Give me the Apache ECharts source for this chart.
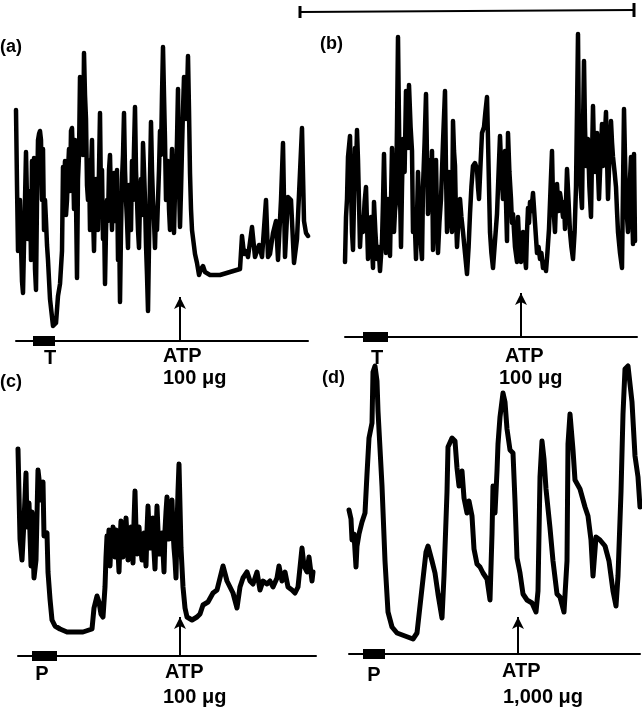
<!DOCTYPE html>
<html>
<head>
<meta charset="utf-8">
<title>ATP traces</title>
<script src="https://cdn.jsdelivr.net/npm/echarts@6/dist/echarts.min.js"></script>
<style>
  html, body { margin: 0; padding: 0; background: #fff; }
  #chart { width: 642px; height: 712px; }
</style>
</head>
<body>
<div id="chart"></div>
<script>
  // recordings, [time, amplitude]
  let traceA = [[0,75],[0.5,50],[1,28],[1.5,40],[2,45],[2.5,30],[3,18],[3.5,14],[4,30],[4.5,45],[5,61],[5.5,45],[6,32],[6.5,40],[7,48],[7.5,25],[8,58],[8.5,50],[9,59],[9.5,22],[10,15],[10.5,45],[11,65],[11.5,67],[12,68],[12.5,65],[13,45],[13.5,62],[14,35],[14.5,45],[15,38],[15.5,30],[16,25],[17,12],[18.5,3],[20,4],[21,13],[22,17],[23,28],[23.5,56],[24,50],[24.5,58],[25,40],[25.5,45],[26,55],[26.5,62],[27,48],[27.5,68],[28,69],[28.5,58],[29,42],[29.5,65],[30,45],[30.5,19],[31,52],[31.5,60],[32,86],[32.5,70],[33,78],[33.5,60],[34,94],[34.5,80],[35,72],[35.5,50],[36,45],[36.5,58],[37,35],[37.5,55],[38,65],[38.5,40],[39,28],[39.5,45],[40,52],[40.5,40],[41,35],[41.5,55],[42,74],[42.5,45],[43,55],[43.5,32],[44,40],[44.5,17],[45,35],[45.5,45],[46,38],[46.5,55],[47,60],[47.5,45],[48,35],[48.5,50],[49,54],[49.5,38],[50,42],[50.5,55],[51,25],[51.5,40],[52,11],[52.5,35],[53,52],[53.5,60],[54,74],[54.5,55],[55,45],[55.5,38],[56,29],[56.5,50],[57,45],[57.5,35],[58,58],[58.5,45],[59,62],[59.5,76],[60,55],[60.5,45],[61,35],[61.5,29],[62,45],[62.5,52],[63,40],[63.5,64],[64,55],[64.5,45],[65,30],[65.5,20],[66,8],[66.5,30],[67,52],[67.5,71],[68,55],[68.5,45],[69,38],[69.5,29],[70,42],[70.5,35],[71,45],[71.5,55],[72,68],[72.5,60],[73,80],[73.5,96],[74,80],[74.5,65],[75,45],[75.5,55],[76,58],[76.5,42],[77,35],[77.5,50],[78,62],[78.5,45],[79,34],[79.5,48],[80,52],[80.5,65],[81,82],[81.5,50],[82,36],[82.5,48],[83,62],[83.5,75],[84,86],[84.5,78],[85,72],[85.5,80],[86,93],[86.5,75],[87,54],[87.5,42],[88,35],[89.5,27],[90.5,24],[91.5,20],[92.5,22],[93.5,23],[94.5,21],[97,20],[102,20],[107,21],[112,22],[113,33],[114,27],[115,28],[116,26],[118,36],[119.5,26],[121.5,30],[123,26],[125,45],[126,26],[127,27],[128.5,34],[130,38],[131,25],[132.5,45],[133.5,64],[134.5,26],[136,46],[137.5,45],[139,24],[140.5,32],[143,69],[144,38],[145,34],[146,33]]
  let traceB = [[0,25],[0.5,40],[1,46],[1.5,60],[2.5,67],[3,50],[3.5,35],[4,29],[4.5,45],[5,63],[5.5,55],[6,69],[6.5,59],[7,45],[7.5,30],[8.2,40],[9,35],[9.8,45],[10.5,50],[11,38],[11.5,26],[12.2,35],[13,40],[13.5,30],[14,23],[14.5,45],[15.2,35],[16,26],[16.8,30],[17.5,22],[18.5,32],[19,45],[19.5,61],[20,45],[20.5,28],[21,40],[21.5,46],[22,35],[22.5,27],[23,45],[23.5,63],[24,50],[24.5,35],[25,42],[25.5,45],[26,70],[26.5,100],[27.2,60],[28,30],[28.5,50],[29,66],[29.8,55],[30.5,82],[31,70],[31.5,63],[32,84],[32.8,70],[33.5,62],[34,35],[34.8,40],[35.5,26],[36,40],[36.5,55],[37,45],[37.5,36],[38,30],[38.5,26],[39,50],[39.8,65],[40.5,81],[41,60],[41.5,41],[42,50],[42.5,59],[43,50],[43.5,62],[44,29],[44.8,45],[45.5,59],[46,40],[46.5,28],[47.2,38],[48,46],[49,65],[50,82],[50.5,55],[51,35],[51.5,45],[52,55],[52.8,42],[53.5,35],[54,72],[54.5,62],[55,57],[55.5,40],[56,30],[56.8,40],[57.5,46],[58.2,40],[59,35],[60,28],[61,21],[61.8,30],[62.5,41],[63.2,50],[64,57],[65,58],[66,56],[66.5,50],[67,46],[67.8,58],[68.5,68],[69.5,70],[70.2,75],[71,80],[71.5,66],[72,50],[72.5,35],[73.2,28],[74,23],[75,32],[76,41],[76.8,55],[77.5,67],[78.2,55],[79,46],[79.5,55],[80,62],[80.5,45],[81,32],[81.5,68],[82.2,55],[83,46],[83.5,38],[84,41],[85,30],[86,25],[86.5,40],[87.2,30],[88,25],[88.5,32],[89,35],[89.8,28],[90.5,23],[91,35],[91.5,43],[92,38],[92.5,45],[93.2,42],[94,48],[95,38],[96,28],[96.8,30],[97.5,26],[98.2,28],[99,23],[99.8,25],[100.5,22],[101.2,28],[102,36],[102.8,50],[103.5,62],[104,46],[104.5,40],[105,35],[105.5,45],[106,51],[106.8,42],[107.5,48],[108.2,45],[109,40],[109.5,45],[110,36],[110.5,45],[111,56],[111.8,45],[112.5,35],[113.2,30],[114,26],[114.8,35],[115.5,50],[116,75],[116.5,101],[117,62],[117.8,50],[118.5,43],[119,70],[119.5,92],[120,70],[120.5,57],[121,62],[121.5,66],[122.2,50],[123,40],[123.5,60],[124,77],[124.5,62],[125,55],[125.5,62],[126,68],[126.5,55],[127,46],[127.8,60],[128.5,71],[129,57],[129.8,65],[130.5,75],[131,60],[131.5,46],[132.2,60],[133,72],[133.5,65],[134,60],[134.8,55],[135.5,50],[136,42],[136.5,35],[137.5,28],[138.5,23],[139,50],[139.5,76],[140,60],[140.5,46],[141,40],[141.5,35],[142.2,48],[143,60],[143.5,45],[144,31],[144.5,61],[145,32]]
  let traceC = [[0,69],[1,39],[2,32],[3,45],[4,61],[4.5,43],[5.5,51],[6.5,30],[7,48],[8,26],[9,32],[10,62],[10.5,59],[11.5,52],[12.5,58],[13,40],[14.5,41],[15,28],[16,19],[17,12],[18.5,10],[21,9],[24.5,8],[27.5,8],[32.5,8],[37,9],[38,16],[39.5,20],[40.5,18],[41.5,14],[42.5,13],[43.5,23],[44,33],[44.5,40],[45,36],[45.5,42],[46,30],[46.5,38],[47,35],[47.5,43],[48,38],[48.5,33],[49,42],[49.5,40],[50,35],[50.5,28],[51,38],[51.5,45],[52,40],[52.5,33],[53,42],[53.5,38],[54,46],[54.5,40],[55,32],[55.5,38],[56,42],[56.5,43],[57,36],[57.5,31],[58,45],[58.5,55],[59,42],[59.5,34],[60,40],[60.5,43],[61,38],[61.5,35],[62,32],[62.5,40],[63,41],[63.5,36],[64,30],[64.5,42],[65,50],[65.5,42],[66,36],[66.5,42],[67,38],[67.5,46],[68,35],[68.5,29],[69,40],[69.5,50],[70,42],[70.5,34],[71,40],[71.5,38],[72,41],[72.5,35],[73,28],[73.5,42],[74,48],[74.5,53],[75,45],[75.5,39],[76,45],[76.5,48],[77,52],[77.5,42],[78,36],[78.5,32],[79,26],[79.5,43],[80,55],[80.5,64],[81,50],[81.5,36],[82.5,23],[83.5,16],[84.5,13],[87,12],[89.5,13],[91,14],[92.5,17],[95,18],[97.5,21],[99.5,22],[101,26],[102.5,30],[104.5,25],[106,23],[107.5,21],[109.5,16],[111,23],[112.5,26],[114.5,28],[116,25],[117.5,24],[119.5,28],[121,22],[122.5,25],[124.5,24],[126,25],[127.5,23],[129.5,26],[130.5,30],[132,25],[133.5,28],[135,23],[137,22],[138.5,21],[140,23],[142,36],[143,30],[144.5,28],[145.5,33],[147,25],[147.5,28]]
  let traceD = [[0,48],[1,45],[1.5,38],[2.5,40],[3.5,29],[4,36],[5,40],[6.5,44],[8,47],[9,60],[10,72],[11.5,77],[12,94],[13,96],[14,91],[14.5,81],[16.5,56],[18,31],[19.5,14],[21.5,9],[24,7],[28,6],[32,5],[34,7],[35.5,16],[37,25],[38.5,34],[39.5,36],[41.5,31],[43,27],[44.5,20],[46.5,12],[47.5,26],[49,54],[49.5,69],[51.5,72],[53,71],[54,62],[55,56],[56.5,61],[57.5,52],[59,47],[60,51],[61.5,46],[62.5,35],[64,30],[65.5,29],[67,27],[69,25],[70.5,18],[71.5,40],[72,56],[73,47],[74,61],[74.5,70],[75.5,79],[77,87],[78,84],[79,75],[80.5,68],[82,67],[83,51],[84,32],[85.5,27],[87,20],[89,18],[91.5,17],[93.5,14],[94.5,21],[95.5,59],[96.5,71],[97.5,65],[98.5,55],[100.5,42],[102,31],[104,20],[105.5,19],[107.5,14],[109,31],[109.5,70],[110.5,80],[112,68],[113,58],[115.5,55],[118,49],[119.5,46],[121,38],[122,26],[123.5,39],[125.5,38],[128,36],[130,31],[132,21],[133.5,16],[134.5,26],[136,54],[137,80],[138,95],[139.5,96],[141.5,84],[143,66],[144.5,59],[145.5,49]]

  let traces = [traceA, traceB, traceC, traceD]
  let panelNames = ['(a)', '(b)', '(c)', '(d)']
  let drugNames = ['T', 'T', 'P', 'P']
  let atpLabels = ['ATP', 'ATP', 'ATP', 'ATP']
  let doseLabels = ['100 \u03bcg', '100 \u03bcg', '100 \u03bcg', '1,000 \u03bcg']
  let drugStart = [8.5, 9, 7, 7]
  let drugEnd = [19.5, 21.5, 19.5, 18]
  let atpTime = [82, 88, 81, 84.5]
  let arrowTop = [12.7, 14.7, 13, 12.3]
  let baseLevel = [-2, 0, 0, 0]
  let topLevel = [97, 102, 70, 100]
  let timeEnd = [146, 146, 149, 145.5]

  // panel boxes in px
  let boxes = [
    { left: 16, top: 44, width: 292, height: 297 },
    { left: 345, top: 31, width: 292, height: 306 },
    { left: 18, top: 446, width: 298, height: 210 },
    { left: 349, top: 354, width: 291, height: 300 }
  ]
  let lineWidths = [4.5, 4.5, 5, 5]
  let panelPos = [[0, 47], [320, 44], [0, 382], [322, 378]]
  let drugPos = [[50, 358], [377, 358], [42, 674], [374, 675]]
  let atpPos = [[163, 356], [505, 356], [165, 672], [502, 671]]
  let dosePos = [[163, 378], [499, 378], [163, 697], [503, 697]]

  let myChart = echarts.init(document.getElementById('chart'))

  let font = '"Liberation Sans", Arial, sans-serif'
  let grid = [], xAxis = [], yAxis = [], series = [], graphic = []

  traces.forEach(function(trace, i) {
    grid.push(boxes[i])
    xAxis.push({
      type: 'value', gridIndex: i, min: 0, max: timeEnd[i],
      axisLine: { show: true, onZero: false, lineStyle: { color: '#000', width: 2 } },
      axisTick: { show: false }, axisLabel: { show: false }, splitLine: { show: false }
    })
    yAxis.push({ type: 'value', gridIndex: i, min: baseLevel[i], max: topLevel[i], show: false })

    series.push({
      type: 'line', xAxisIndex: i, yAxisIndex: i, data: trace,
      showSymbol: false, silent: true,
      lineStyle: { color: '#000', width: lineWidths[i], join: 'round', cap: 'round' },
      markLine: {
        silent: true, symbol: ['none', 'arrow'], symbolSize: [9, 12],
        label: { show: false },
        lineStyle: { color: '#000', width: 2, type: 'solid' },
        data: [[{ coord: [atpTime[i], baseLevel[i]] }, { coord: [atpTime[i], arrowTop[i]] }]]
      }
    })
    // drug application bar
    series.push({
      type: 'line', xAxisIndex: i, yAxisIndex: i,
      data: [[drugStart[i], baseLevel[i]], [drugEnd[i], baseLevel[i]]],
      showSymbol: false, silent: true,
      lineStyle: { color: '#000', width: 10 }
    })

    graphic.push({
      type: 'text', x: panelPos[i][0], y: panelPos[i][1],
      style: { text: panelNames[i], font: 'bold 18px ' + font, fill: '#000', verticalAlign: 'middle' }
    })
    graphic.push({
      type: 'text', x: drugPos[i][0], y: drugPos[i][1],
      style: { text: drugNames[i], font: 'bold 20px ' + font, fill: '#000', align: 'center', verticalAlign: 'middle' }
    })
    graphic.push({
      type: 'text', x: atpPos[i][0], y: atpPos[i][1],
      style: { text: atpLabels[i], font: 'bold 20px ' + font, fill: '#000', align: 'left', verticalAlign: 'middle' }
    })
    graphic.push({
      type: 'text', x: dosePos[i][0], y: dosePos[i][1],
      style: { text: doseLabels[i], font: 'bold 20px ' + font, fill: '#000', align: 'left', verticalAlign: 'middle' }
    })
  })

  // scale bar at top
  graphic.push({ type: 'line', shape: { x1: 300, y1: 12, x2: 634, y2: 10 }, style: { stroke: '#000', lineWidth: 2 } })
  graphic.push({ type: 'line', shape: { x1: 300, y1: 6, x2: 300, y2: 18 }, style: { stroke: '#000', lineWidth: 3 } })
  graphic.push({ type: 'line', shape: { x1: 634, y1: 3, x2: 634, y2: 17 }, style: { stroke: '#000', lineWidth: 3 } })

  let option = {
    animation: false,
    backgroundColor: '#fff',
    grid: grid,
    xAxis: xAxis,
    yAxis: yAxis,
    series: series,
    graphic: graphic
  }
  myChart.setOption(option)
</script>
</body>
</html>
